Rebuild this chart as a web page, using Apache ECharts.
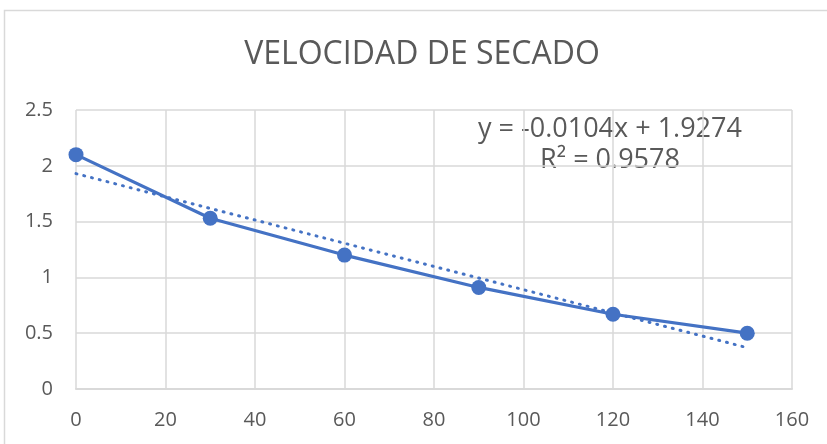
<!DOCTYPE html>
<html><head><meta charset="utf-8">
<script src="https://cdn.jsdelivr.net/npm/echarts@6/dist/echarts.min.js"></script>
<style>html,body{margin:0;padding:0;background:#fff}#c{width:827px;height:444px}</style>
</head><body><div id="c"></div>
<script>
const xValues = [0, 30, 60, 90, 120, 150];
const yValues = [2.1, 1.53, 1.2, 0.91, 0.67, 0.5];
const trendX = [0, 150];
const trendY = [1.93, 0.37];
const xTicks = [0, 20, 40, 60, 80, 100, 120, 140, 160];
const yTicks = [0, 0.5, 1, 1.5, 2, 2.5];
const titleText = 'VELOCIDAD DE SECADO';
const eqLine1 = 'y = -0.0104x + 1.9274';
const eqLine2 = 'R² = 0.9578';

const chart = echarts.init(document.getElementById('c'), null, {renderer: 'canvas'});
const font = "'Open Sans', 'Liberation Sans', sans-serif";
const narrow = "'Liberation Sans Narrow', 'Open Sans', sans-serif";
chart.setOption({
  animation: false,
  grid: {left: 76, right: 35, top: 110, bottom: 55},
  xAxis: {type: 'value', min: 0, max: 160, interval: 20,
    axisLine: {show: true, lineStyle: {color: '#d9d9d9', width: 2}},
    axisTick: {show: false},
    splitLine: {show: true, lineStyle: {color: '#d9d9d9', width: 1.5}},
    axisLabel: {fontFamily: font, fontSize: 20, color: '#595959', margin: 21}},
  yAxis: {type: 'value', min: 0, max: 2.5, interval: 0.5,
    axisLine: {show: false}, axisTick: {show: false},
    splitLine: {show: true, lineStyle: {color: '#d9d9d9', width: 1.5}},
    axisLabel: {fontFamily: font, fontSize: 20, color: '#595959', margin: 23}},
  series: [
    {type: 'line', data: trendX.map((x, i) => [x, trendY[i]]), symbol: 'none',
      lineStyle: {color: '#4472C4', width: 3, type: [1, 7], cap: 'round'}, z: 2},
    {type: 'line', data: xValues.map((x, i) => [x, yValues[i]]), symbol: 'circle', symbolSize: 15,
      itemStyle: {color: '#4472C4'}, lineStyle: {color: '#4472C4', width: 3.2}, z: 3}
  ],
  graphic: [
    {type: 'rect', shape: {x: 4.5, y: 10.5, width: 830, height: 440}, style: {fill: 'none', stroke: '#d9d9d9', lineWidth: 1.5}, silent: true},
    {type: 'text', x: 422, y: 55, style: {text: titleText, align: 'center', verticalAlign: 'middle', font: "32px " + narrow, fill: '#595959'}},
    {type: 'text', x: 610, y: 129, style: {text: eqLine1, align: 'center', verticalAlign: 'middle', font: "27px " + font, fill: '#595959'}},
    {type: 'text', x: 610, y: 160, style: {text: eqLine2, align: 'center', verticalAlign: 'middle', font: "27px " + font, fill: '#595959'}}
  ]
});
</script></body></html>
